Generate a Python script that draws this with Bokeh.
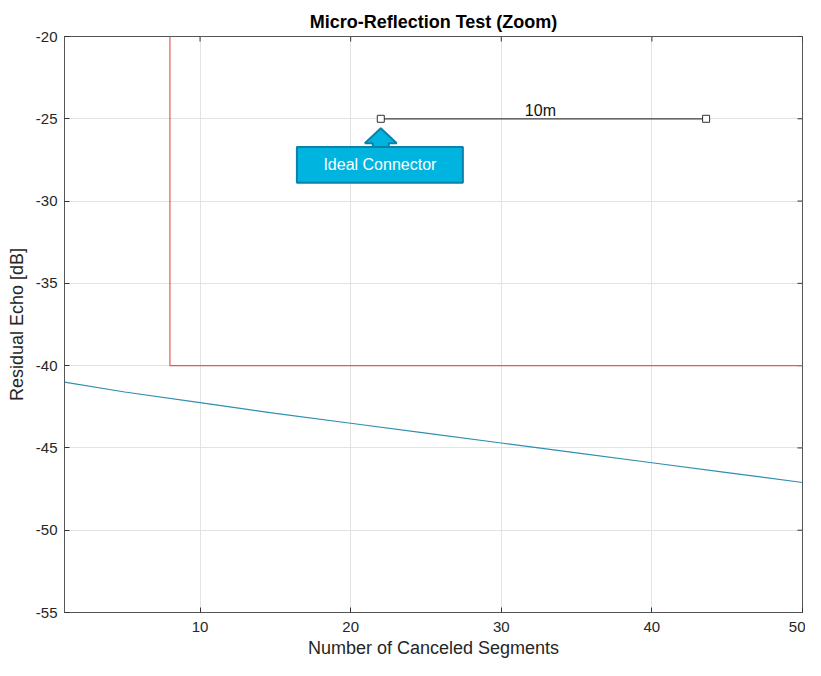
import math
from bokeh.plotting import figure
from bokeh.models import Range1d, FixedTicker, PrintfTickFormatter
from bokeh.core.properties import value
from bokeh.embed import file_html
from bokeh.resources import INLINE

# ---- data ----
x_blue = [1, 5, 10, 15, 20, 25, 30, 35, 40, 45, 50]
y_blue = [-41.0, -41.6, -42.25, -42.9, -43.5, -44.1, -44.7, -45.3, -45.9, -46.5, -47.1]

x_red = [8, 8, 50]
y_red = [-20, -40, -40]

x_len = [22, 43.6]
y_len = [-25, -25]
len_label = "10m"
len_label_x = 32.6

callout_text = "Ideal Connector"
callout_box = dict(left=16.43, right=27.45, top=-26.72, bottom=-28.88)
callout_tip = (22, -25.58)
callout_head_base = -26.48

x_ticks = [10, 20, 30, 40, 50]
y_ticks = [-55, -50, -45, -40, -35, -30, -25, -20]
X_MIN, X_MAX = 1, 50
Y_MIN, Y_MAX = -55, -20

FONT = "Liberation Sans"

p = figure(width=805, height=660, output_backend="svg", toolbar_location=None,
           x_range=Range1d(X_MIN, X_MAX), y_range=Range1d(Y_MIN, Y_MAX),
           min_border_left=64, min_border_right=3, min_border_top=36, min_border_bottom=48,
           title="Micro-Reflection Test (Zoom)")
p.title.align = "center"
p.title.text_font = FONT
p.title.text_font_size = "18px"
p.title.text_font_style = "bold"
p.title.text_color = "#000000"

p.outline_line_color = "#555555"
p.outline_line_width = 1
p.background_fill_color = "white"
p.border_fill_color = "white"

for ax in (p.xaxis[0], p.yaxis[0]):
    ax.major_tick_in = 5
    ax.major_tick_out = 0
    ax.minor_tick_in = 0
    ax.minor_tick_out = 0
    ax.axis_line_color = "#555555"
    ax.major_tick_line_color = "#333333"
    ax.major_label_text_font = FONT
    ax.major_label_text_font_size = "15px"
    ax.major_label_text_color = "#262626"
    ax.axis_label_text_font = FONT
    ax.axis_label_text_font_size = "18px"
    ax.axis_label_text_font_style = "normal"
    ax.axis_label_text_color = "#262626"
    ax.formatter = PrintfTickFormatter(format="%d")

p.xaxis.ticker = FixedTicker(ticks=x_ticks)
p.yaxis.ticker = FixedTicker(ticks=y_ticks)
p.xaxis.axis_label = "Number of Canceled Segments"
p.yaxis.axis_label = "Residual Echo [dB]"
p.xaxis.major_label_standoff = 9
p.yaxis.major_label_standoff = 7
p.xaxis.axis_label_standoff = 3
p.yaxis.axis_label_standoff = 6

p.grid.grid_line_color = "#e3e3e3"
p.xgrid.ticker = FixedTicker(ticks=x_ticks)
p.ygrid.ticker = FixedTicker(ticks=y_ticks)

# top/right inward tick marks (half of each dash is clipped by the frame)
p.scatter(x=x_ticks, y=[Y_MAX] * len(x_ticks), marker="dash", size=10,
          angle=math.pi / 2, line_color="#333333", line_width=1)
p.scatter(x=[X_MAX] * len(y_ticks), y=y_ticks, marker="dash", size=10,
          angle=0, line_color="#333333", line_width=1)

# series
p.line(x_red, y_red, line_color="#e05a5a", line_width=1.2)
p.line(x_blue, y_blue, line_color="#2f8fb0", line_width=1.2)

# length marker
p.line(x_len, y_len, line_color="#404040", line_width=1.2)
p.scatter(x_len, y_len, marker="square", size=7, fill_color="white",
          line_color="#303030", line_width=1)
p.text(x=[len_label_x], y=[y_len[0]], text=[len_label],
       text_font=value(FONT), text_font_size="16px", text_color="#111111",
       text_align="center", text_baseline="bottom")

# callout
bx = callout_box
tx, ty = callout_tip
hb = callout_head_base
p.patch(x=[tx, tx + 1.06, tx + 0.53, tx + 0.53, tx - 0.53, tx - 0.53, tx - 1.06],
        y=[ty, hb, hb, bx["top"], bx["top"], hb, hb],
        fill_color="#00b4e0", line_color="#0a82aa", line_width=2)
p.quad(left=[bx["left"]], right=[bx["right"]], top=[bx["top"]], bottom=[bx["bottom"]],
       fill_color="#00b4e0", line_color="#0a82aa", line_width=2)
p.text(x=[(bx["left"] + bx["right"]) / 2], y=[(bx["top"] + bx["bottom"]) / 2],
       text=[callout_text], text_font=value(FONT), text_font_size="16px",
       text_color="white", text_align="center", text_baseline="middle")

open("out.html", "w").write(file_html(p, INLINE))
